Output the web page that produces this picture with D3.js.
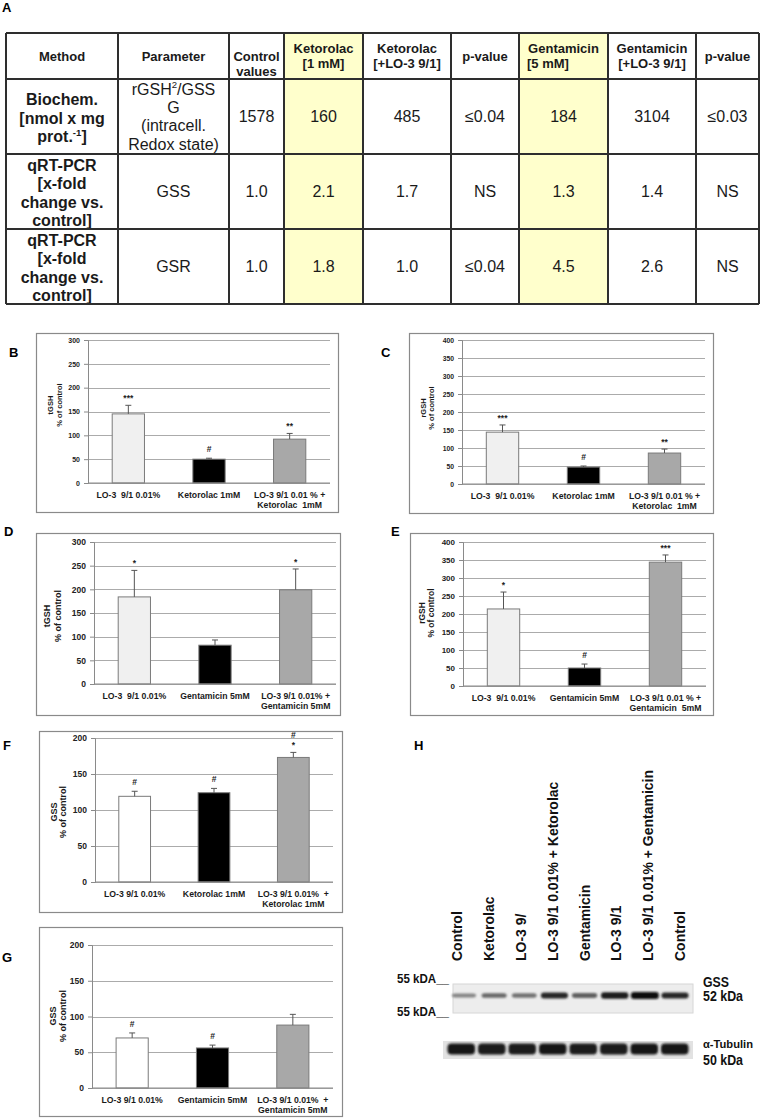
<!DOCTYPE html>
<html><head><meta charset="utf-8">
<script src="https://cdn.jsdelivr.net/npm/d3@7"></script>
<style>
body{margin:0;background:#fff;}
svg{display:block;font-family:Arial,"Liberation Sans",sans-serif;}
text{white-space:pre;}
</style></head><body>
<svg id="fig" width="762" height="1119"></svg>
<script>
// ================= DATA =================
// Table A
const tableHeaders = [["Method"],["Parameter"],["Control","values"],["Ketorolac","[1 mM]"],["Ketorolac","[+LO-3 9/1]"],["p-value"],["Gentamicin","[5 mM]"],["Gentamicin","[+LO-3 9/1]"],["p-value"]];
const tableMethods = [["Biochem.","[nmol x mg","prot.^-1^]"],["qRT-PCR","[x-fold","change vs.","control]"],["qRT-PCR","[x-fold","change vs.","control]"]];
const tableParams = [["rGSH^2^/GSS","G","(intracell.","Redox state)"],["GSS"],["GSR"]];
const controlValues = ["1578","1.0","1.0"];
const ketorolac1mM = ["160","2.1","1.8"];
const ketorolacLO3 = ["485","1.7","1.0"];
const pValueKetorolac = ["≤0.04","NS","≤0.04"];
const gentamicin5mM = ["184","1.3","4.5"];
const gentamicinLO3 = ["3104","1.4","2.6"];
const pValueGentamicin = ["≤0.03","NS","NS"];

// Bar panels
const labelsKetB = ["LO-3  9/1 0.01%","Ketorolac 1mM",["LO-3 9/1 0.01 % +","Ketorolac  1mM"]];
const labelsGenD = ["LO-3  9/1 0.01%","Gentamicin 5mM",["LO-3 9/1 0.01% +","Gentamicin 5mM"]];
const labelsGenE = ["LO-3  9/1 0.01%","Gentamicin 5mM",["LO-3 9/1 0.01 % +","Gentamicin  5mM"]];
const labelsKetF = ["LO-3 9/1 0.01%","Ketorolac 1mM",["LO-3 9/1 0.01%  +","Ketorolac 1mM"]];
const labelsGenG = ["LO-3 9/1 0.01%","Gentamicin 5mM",["LO-3 9/1 0.01%  +","Gentamicin 5mM"]];

const valuesB = [145, 50, 92],  errorsB = [18, 2, 12],  marksB = [["***"],["#"],["**"]];
const valuesC = [144, 47, 86],  errorsC = [20, 3, 11],  marksC = [["***"],["#"],["**"]];
const valuesD = [184, 82, 199], errorsD = [56, 11, 44], marksD = [["*"],[],["*"]];
const valuesE = [214, 50, 344], errorsE = [47, 11, 20], marksE = [["*"],["#"],["***"]];
const valuesF = [119, 124, 173], errorsF = [7, 6, 7],   marksF = [["#"],["#"],["*","#"]];
const valuesG = [70, 56, 88],   errorsG = [7, 4, 15],   marksG = [["#"],["#"],[]];

const yTitleB = ["tGSH","% of control"], yTitleC = ["rGSH","% of control"];
const yTitleD = ["tGSH","% of control"], yTitleE = ["rGSH","% of control"];
const yTitleF = ["GSS","% of control"],  yTitleG = ["GSS","% of control"];
const yMaxB = 300, yMaxC = 400, yMaxD = 300, yMaxE = 400, yMaxF = 200, yMaxG = 200;
const yTickStep = 50;

// Western blot H
const blotLanes = ["Control","Ketorolac","LO-3 9/","LO-3 9/1 0.01% + Ketorolac","Gentamicin","LO-3 9/1","LO-3 9/1 0.01% + Gentamicin","Control"];
const gssIntensity = [0.35, 0.5, 0.45, 0.85, 0.55, 0.9, 1.0, 0.85];
const tubulinIntensity = [0.95, 0.92, 0.9, 0.93, 0.9, 0.92, 0.93, 0.95];

// ================= DRAW =================
const svg = d3.select("#fig");
const defs = svg.append("defs");
defs.append("filter").attr("id","blur").attr("x","-20%").attr("y","-100%").attr("width","140%").attr("height","300%")
  .append("feGaussianBlur").attr("stdDeviation", 0.8);

function rich(sel, str, fs) {
  const parts = str.split("^");
  parts.forEach((p, i) => {
    if (!p) return;
    const t = sel.append("tspan").text(p);
    if (i % 2 === 1) t.attr("font-size", fs * 0.6).attr("dy", -fs * 0.4);
    else if (i > 0) t.attr("dy", fs * 0.4);
  });
}

// ---- Panel A: table
svg.append("text").attr("x", 2).attr("y", 12).attr("font-size", 13).attr("font-weight", "bold").text("A");
const cols = [6,118,229,284,363,451,519,608,696,759];
const rows = [33,79,154,229,304];
const highlight = [3,6];
const tg = svg.append("g");
highlight.forEach(c => tg.append("rect").attr("x", cols[c]).attr("y", rows[0]).attr("width", cols[c+1]-cols[c]).attr("height", rows[4]-rows[0]).attr("fill", "#ffffcc"));

tableHeaders.forEach((lines, c) => {
  const cx = (cols[c] + cols[c+1]) / 2;
  const cy = (rows[0] + rows[1]) / 2 + (c === 2 ? 8 : 0);
  lines.forEach((ln, i) => {
    const leftAlign = (c === 6 && i === 1);
    tg.append("text").attr("x", leftAlign ? cols[c] + 8 : cx)
      .attr("y", cy + (i - (lines.length - 1) / 2) * 15 + 4.6)
      .attr("text-anchor", leftAlign ? "start" : "middle")
      .attr("font-size", 13).attr("font-weight", "bold").attr("fill", "#1a1a1a").text(ln);
  });
});
const bodyCols = [tableMethods, tableParams, controlValues, ketorolac1mM, ketorolacLO3, pValueKetorolac, gentamicin5mM, gentamicinLO3, pValueGentamicin];
bodyCols.forEach((colData, c) => {
  colData.forEach((cell, r) => {
    const lines = Array.isArray(cell) ? cell : [cell];
    const cx = (cols[c] + cols[c+1]) / 2;
    const cy = (rows[r+1] + rows[r+2]) / 2 + (c === 0 ? 1.5 : 0);
    lines.forEach((ln, i) => {
      const t = tg.append("text").attr("x", cx)
        .attr("y", cy + (i - (lines.length - 1) / 2) * 18.3 + 5.6)
        .attr("text-anchor", "middle").attr("font-size", 16)
        .attr("font-weight", c === 0 ? "bold" : "normal").attr("fill", "#1a1a1a");
      rich(t, ln, 16);
    });
  });
});
rows.forEach(y => tg.append("line").attr("x1", cols[0]).attr("x2", cols[cols.length-1]).attr("y1", y).attr("y2", y).attr("stroke", "#2e2e2e").attr("stroke-width", 2));
cols.forEach(x => tg.append("line").attr("x1", x).attr("x2", x).attr("y1", rows[0]).attr("y2", rows[rows.length-1]).attr("stroke", "#2e2e2e").attr("stroke-width", 2));

// ---- Bar panels
const barFillsLight = ["#f0f0f0", "#000000", "#a8a8a8"];
const barFillsWhite = ["#ffffff", "#000000", "#a8a8a8"];

function drawPanel(cfg) {
  const g = svg.append("g");
  svg.append("text").attr("x", cfg.label[0]).attr("y", cfg.label[1]).attr("font-size", 13).attr("font-weight", "bold").text(cfg.name);
  const [fx0, fy0, fx1, fy1] = cfg.frame;
  g.append("rect").attr("x", fx0 + 0.5).attr("y", fy0 + 0.5).attr("width", fx1 - fx0).attr("height", fy1 - fy0)
    .attr("fill", "#fff").attr("stroke", "#8a8a8a").attr("stroke-width", 1.2);
  const y = d3.scaleLinear().domain([0, cfg.max]).range([cfg.y0, cfg.yTop]);
  const x = d3.scaleBand().domain(d3.range(cfg.values.length)).range([cfg.axisX, cfg.right]).paddingInner(0.6).paddingOuter(0.3);
  const ticks = d3.range(0, cfg.max + 1, yTickStep);
  const grid = g.append("g").attr("transform", `translate(${cfg.axisX},0)`)
    .call(d3.axisLeft(y).tickValues(ticks).tickSize(-(cfg.right - cfg.axisX)).tickFormat(""));
  grid.select(".domain").remove();
  grid.selectAll("line").attr("stroke", "#ababab").attr("stroke-width", 1).attr("shape-rendering", "crispEdges");
  g.selectAll("rect.bar").data(cfg.values).join("rect").attr("class", "bar")
    .attr("x", (d, i) => x(i)).attr("width", x.bandwidth())
    .attr("y", d => y(d)).attr("height", d => y(0) - y(d))
    .attr("fill", (d, i) => cfg.fills[i]).attr("stroke", "#7a7a7a").attr("stroke-width", 1);
  cfg.values.forEach((v, i) => {
    const cx = x(i) + x.bandwidth() / 2;
    const top = y(v + cfg.errors[i]);
    g.append("line").attr("x1", cx).attr("x2", cx).attr("y1", y(v)).attr("y2", top).attr("stroke", "#555").attr("stroke-width", 1);
    g.append("line").attr("x1", cx - 3).attr("x2", cx + 3).attr("y1", top).attr("y2", top).attr("stroke", "#555").attr("stroke-width", 1);
    let base = top;
    cfg.marks[i].forEach((m, k) => {
      const off = m === "#" ? 6 : 4;
      const yy = (k === 0) ? base - off : base - 10;
      g.append("text").attr("x", cx).attr("y", yy).attr("text-anchor", "middle")
        .attr("font-size", 8.5).attr("font-weight", "bold").attr("fill", "#222").text(m);
      base = yy;
    });
  });
  const ax = g.append("g").attr("transform", `translate(${cfg.axisX},0)`)
    .call(d3.axisLeft(y).tickValues(ticks).tickSize(4).tickPadding(4));
  ax.select(".domain").attr("stroke", "#8a8a8a");
  ax.selectAll("line").attr("stroke", "#8a8a8a");
  ax.selectAll("text").attr("font-size", cfg.tickFs).attr("font-weight", "bold").attr("fill", "#222").attr("font-family", "Arial, 'Liberation Sans', sans-serif");
  g.append("line").attr("x1", cfg.axisX).attr("x2", cfg.right).attr("y1", y(0)).attr("y2", y(0)).attr("stroke", "#8a8a8a");
  cfg.labels.forEach((lab, i) => {
    const lines = Array.isArray(lab) ? lab : [lab];
    const cx = x(i) + x.bandwidth() / 2;
    lines.forEach((ln, k) => {
      g.append("text").attr("x", cx).attr("y", cfg.y0 + 15 + k * 9.5).attr("text-anchor", "middle")
        .attr("font-size", 8.7).attr("font-weight", "bold").attr("fill", "#1a1a1a").text(ln);
    });
  });
  cfg.title.forEach((ln, k) => {
    g.append("text").attr("transform", `translate(${cfg.titleX[k]},${cfg.titleY}) rotate(-90)`)
      .attr("dy", "0.35em").attr("text-anchor", "middle").attr("font-size", cfg.titleFs)
      .attr("font-weight", "bold").attr("fill", "#1a1a1a").text(ln);
  });
}

drawPanel({name:"B", label:[9,357], frame:[36,333,338,512], axisX:88, right:330, y0:483, yTop:340, max:yMaxB,
  values:valuesB, errors:errorsB, marks:marksB, labels:labelsKetB, title:yTitleB, fills:barFillsLight,
  tickFs:7, titleFs:7.5, titleX:[50,59], titleY:405});
drawPanel({name:"C", label:[381,357], frame:[409,333,713,513], axisX:462, right:705, y0:484, yTop:340, max:yMaxC,
  values:valuesC, errors:errorsC, marks:marksC, labels:labelsKetB, title:yTitleC, fills:barFillsLight,
  tickFs:6.8, titleFs:7.5, titleX:[423,431], titleY:408});
drawPanel({name:"D", label:[4,536], frame:[36,533,340,715], axisX:94, right:336, y0:684, yTop:542, max:yMaxD,
  values:valuesD, errors:errorsD, marks:marksD, labels:labelsGenD, title:yTitleD, fills:barFillsLight,
  tickFs:8.5, titleFs:9, titleX:[47,58], titleY:616});
drawPanel({name:"E", label:[391,536], frame:[410,533,713,715], axisX:463, right:706, y0:686, yTop:542, max:yMaxE,
  values:valuesE, errors:errorsE, marks:marksE, labels:labelsGenE, title:yTitleE, fills:barFillsLight,
  tickFs:8, titleFs:8.5, titleX:[422,431], titleY:613});
drawPanel({name:"F", label:[3,750], frame:[39,731,342,912], axisX:95, right:333, y0:882, yTop:738, max:yMaxF,
  values:valuesF, errors:errorsF, marks:marksF, labels:labelsKetF, title:yTitleF, fills:barFillsWhite,
  tickFs:8.5, titleFs:9, titleX:[54,63], titleY:812});
drawPanel({name:"G", label:[2,962], frame:[39,927,342,1116], axisX:92, right:333, y0:1088, yTop:945, max:yMaxG,
  values:valuesG, errors:errorsG, marks:marksG, labels:labelsGenG, title:yTitleG, fills:barFillsWhite,
  tickFs:8.5, titleFs:9, titleX:[53,63], titleY:1016});

// ---- Panel H: western blot
const narrow = "'Liberation Sans Narrow','Arial Narrow',Arial,sans-serif";
svg.append("text").attr("x", 414).attr("y", 750).attr("font-size", 13).attr("font-weight", "bold").text("H");
const hg = svg.append("g");
const labelX = d3.scalePoint().domain(d3.range(blotLanes.length)).range([457.5, 680]);
const gssX = d3.scalePoint().domain(d3.range(gssIntensity.length)).range([464, 675]);
const tubX = d3.scaleBand().domain(d3.range(tubulinIntensity.length)).range([446, 690]);
const shade = d3.interpolateRgb("#c4c4c4", "#0c0c0c");

hg.selectAll("text.lane").data(blotLanes).join("text").attr("class", "lane")
  .attr("transform", (d, i) => `translate(${labelX(i)},961) rotate(-90)`)
  .attr("dy", "0.35em").attr("font-size", 14).attr("font-weight", "bold").attr("font-family", narrow)
  .attr("fill", "#111").text(d => d);

hg.append("rect").attr("x", 453).attr("y", 984).attr("width", 240).attr("height", 29).attr("fill", "#ededed").attr("stroke", "#d6d6d6");
hg.selectAll("rect.gss").data(gssIntensity).join("rect").attr("class", "gss")
  .attr("x", (d, i) => gssX(i) - (11 + 3 * d)).attr("width", d => 22 + 6 * d)
  .attr("y", d => 995.5 - (1.2 + 2.2 * d)).attr("height", d => 2.4 + 4.4 * d)
  .attr("rx", 3).attr("fill", d => shade(d)).attr("filter", "url(#blur)");

hg.append("rect").attr("x", 443).attr("y", 1041).attr("width", 250).attr("height", 18).attr("fill", "#e2e2e2");
hg.selectAll("rect.tub").data(tubulinIntensity).join("rect").attr("class", "tub")
  .attr("x", (d, i) => tubX(i) + 1.5).attr("width", tubX.bandwidth() - 3)
  .attr("y", 1043.5).attr("height", 11).attr("rx", 4)
  .attr("fill", d => shade(d)).attr("filter", "url(#blur)");

[["55 kDA__", 983], ["55 kDA__", 1016]].forEach(([t, yy]) =>
  hg.append("text").attr("x", 449).attr("y", yy).attr("text-anchor", "end").attr("font-size", 13.5)
    .attr("font-weight", "bold").attr("font-family", narrow).attr("fill", "#111")
    .attr("textLength", 52).attr("lengthAdjust", "spacingAndGlyphs").text(t));
[["GSS", 987, 26, 14], ["52 kDa", 1001, 40, 14], ["α-Tubulin", 1048, 50, 11.5], ["50 kDa", 1065, 40, 14]].forEach(([t, yy, len, fs]) =>
  hg.append("text").attr("x", 703).attr("y", yy).attr("font-size", fs).attr("font-weight", "bold")
    .attr("font-family", narrow).attr("fill", "#111")
    .attr("textLength", len).attr("lengthAdjust", "spacingAndGlyphs").text(t));
</script>
</body></html>
